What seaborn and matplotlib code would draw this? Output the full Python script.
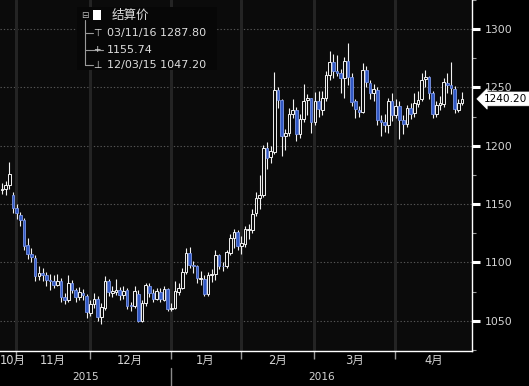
import numpy as np
import pandas as pd
import matplotlib
matplotlib.use("Agg")
import matplotlib.pyplot as plt
import matplotlib.transforms as mtransforms
from matplotlib.patches import Rectangle
import seaborn as sns

# ---------------- data ----------------
holidays = ['2015-11-26', '2015-12-25', '2016-01-01', '2016-01-18', '2016-02-15', '2016-03-25']

opens = [
    1162, 1163, 1166, 1158, 1147,
    1141, 1136, 1115, 1107, 1104, 1088, 1091, 1089, 1085, 1084, 1081, 1084, 1070, 1068, 1082, 1076, 1070, 1074, 1071, 1057,
    1064, 1069, 1053, 1061, 1084, 1074, 1075, 1076, 1072, 1076, 1063, 1063, 1073, 1050, 1065, 1080, 1074, 1069, 1075, 1068, 1077, 1060,
    1061, 1075, 1078, 1092, 1108, 1098, 1097, 1086, 1086, 1073, 1089, 1090, 1106, 1097, 1097, 1108, 1121, 1126, 1114,
    1116, 1128, 1128, 1142, 1155, 1158, 1198, 1190, 1195, 1248, 1239, 1208, 1211, 1227, 1231, 1210, 1223, 1239, 1241, 1220,
    1238, 1231, 1241, 1261, 1272, 1264, 1262, 1258, 1273, 1259, 1238, 1231, 1229, 1265, 1254, 1245, 1248, 1222, 1220, 1218, 1238, 1226,
    1234, 1222, 1219, 1232, 1228, 1236, 1240, 1257, 1259, 1245, 1227, 1235, 1236, 1254, 1252, 1249, 1231, 1237,
]
highs = [
    1168, 1170, 1186, 1160, 1150,
    1143, 1138, 1121, 1112, 1106, 1097, 1095, 1092, 1090, 1089, 1090, 1087, 1074, 1089, 1085, 1078, 1079, 1077, 1073, 1068,
    1074, 1071, 1065, 1088, 1086, 1080, 1086, 1079, 1080, 1078, 1066, 1080, 1076, 1068, 1082, 1082, 1077, 1078, 1078, 1080, 1078, 1065,
    1084, 1082, 1095, 1112, 1113, 1101, 1098, 1093, 1089, 1092, 1094, 1111, 1107, 1100, 1111, 1124, 1129, 1128, 1123,
    1131, 1133, 1146, 1160, 1175, 1201, 1203, 1200, 1263, 1250, 1240, 1214, 1232, 1240, 1233, 1227, 1253, 1244, 1241, 1246,
    1247, 1247, 1264, 1281, 1279, 1278, 1266, 1276, 1287.8, 1262, 1240, 1234, 1271, 1268, 1256, 1253, 1250, 1226, 1227, 1241, 1245, 1240,
    1238, 1226, 1235, 1237, 1245, 1247, 1262, 1265, 1260, 1247, 1238, 1243, 1258, 1262, 1272, 1251, 1240, 1246,
]
lows = [
    1159, 1158, 1163, 1142, 1137,
    1131, 1111, 1103, 1100, 1084, 1085, 1084, 1080, 1076, 1078, 1080, 1066, 1064, 1066, 1074, 1066, 1068, 1068, 1052, 1054,
    1061, 1050, 1047.2, 1059, 1071, 1070, 1072, 1068, 1069, 1060, 1058, 1061, 1049, 1049, 1063, 1070, 1066, 1068, 1066, 1067, 1058, 1058,
    1060, 1072, 1077, 1090, 1095, 1091, 1082, 1081, 1071, 1071, 1083, 1085, 1094, 1093, 1095, 1106, 1112, 1111, 1107,
    1113, 1120, 1125, 1140, 1146, 1156, 1180, 1185, 1193, 1232, 1191, 1196, 1208, 1224, 1204, 1207, 1220, 1226, 1211, 1218,
    1225, 1226, 1238, 1256, 1258, 1260, 1245, 1241, 1252, 1234, 1224, 1225, 1228, 1250, 1240, 1238, 1218, 1208, 1212, 1211, 1221, 1224,
    1206, 1210, 1216, 1223, 1225, 1233, 1238, 1250, 1240, 1224, 1225, 1231, 1233, 1245, 1244, 1228, 1229, 1235,
]
closes = [
    1163, 1166, 1176, 1146.5, 1142.4,
    1136.6, 1114.3, 1107.5, 1104.2, 1088.0, 1091.2, 1088.9, 1085.0, 1084.4, 1080.9, 1084.2, 1070.1, 1068.1, 1082.0, 1076.4,
    1070.5, 1074.5, 1071.7, 1057.4, 1064.5,
    1068.9, 1053.5, 1061.6, 1084.1, 1074.6, 1075.4, 1076.1, 1071.9, 1075.7, 1062.6, 1062.9, 1075.6, 1049.6, 1065.0, 1080.6,
    1074.1, 1068.9, 1075.5, 1068.3, 1076.8, 1059.8, 1060.3,
    1075.1, 1078.4, 1091.9, 1107.7, 1097.8, 1096.6, 1086.4, 1086.5, 1073.1, 1088.9, 1089.8, 1106.0, 1097.0, 1096.6, 1108.6,
    1121.0, 1125.7, 1114.2, 1116.4,
    1128.4, 1128.1, 1141.6, 1155.4, 1158.2, 1198.4, 1189.6, 1195.1, 1247.8, 1239.4, 1208.4, 1211.0, 1227.2, 1230.8, 1210.2,
    1223.3, 1238.6, 1240.6, 1220.2, 1238.4,
    1231.2, 1240.8, 1260.5, 1271.9, 1264.5, 1262.4, 1257.8, 1272.8, 1259.0, 1237.6, 1231.2, 1229.3, 1265.0, 1254.3, 1244.9,
    1248.7, 1222.4, 1220.2, 1218.0, 1238.0, 1226.2, 1234.2,
    1221.9, 1218.8, 1232.3, 1227.6, 1236.4, 1239.6, 1256.8, 1258.8, 1245.4, 1227.4, 1234.7, 1236.3, 1254.3, 1252.0, 1249.3,
    1231.2, 1237.1, 1240.2,
]
month_labels = ['10月', '11月', '12月', '1月', '2月', '3月', '4月']
year_labels = ['2015', '2016']
y_ticks = [1050, 1100, 1150, 1200, 1250, 1300]
legend_title = '结算价'
stat_high = ('03/11/16', 1287.80)
stat_avg = 1155.74
stat_low = ('12/03/15', 1047.20)
last_price = 1240.20

# ---------------- frame ----------------
dates = pd.bdate_range('2015-10-26', '2016-04-26')
dates = dates[~dates.isin(pd.to_datetime(holidays))]
df = pd.DataFrame({'date': dates, 'open': opens, 'high': highs, 'low': lows, 'close': closes})
df['idx'] = np.arange(len(df))
df['up'] = df['close'] >= df['open']

sns.set_style('dark')
plt.rcParams['font.family'] = ['DejaVu Sans', 'Noto Sans CJK SC']

W, H = 529, 386
fig = plt.figure(figsize=(W / 100, H / 100), dpi=100, facecolor='black')
AXW, AXH = 472, 351
ax = fig.add_axes([0, (H - AXH) / H, AXW / W, AXH / H])
BG = '#0b0b0b'
ax.set_facecolor(BG)

xmin, xmax = -0.55, 127.7
ax.set_xlim(xmin, xmax)
ax.set_ylim(1024, 1311.5)

# month boundaries
mstart = df.groupby(df['date'].dt.to_period('M'))['idx'].min().values
ticks = mstart[1:] - 1.2

# grid
for yv in y_ticks:
    ax.axhline(yv, color='#555555', lw=0.8, dashes=(1.2, 1.8), zorder=1)
for t in ticks:
    ax.axvline(t, color='#242424', lw=2.2, zorder=1)

# candles
ax.vlines(df['idx'], df['low'], df['high'], color='#f2f2f2', lw=0.8, zorder=2)
u = df[df['up']]
d = df[~df['up']]
ax.bar(u['idx'], (u['close'] - u['open']).clip(lower=0.6), bottom=u['open'], width=0.72,
       color=BG, edgecolor='#f2f2f2', lw=0.7, zorder=3)
ax.bar(d['idx'], (d['open'] - d['close']).clip(lower=0.6), bottom=d['close'], width=0.72,
       color='#3158c4', edgecolor='#7d97e6', lw=0.6, zorder=3)

# spines
for s in ['top', 'left']:
    ax.spines[s].set_visible(False)
for s in ['right', 'bottom']:
    ax.spines[s].set_visible(True)
    ax.spines[s].set_color('white')
    ax.spines[s].set_linewidth(1.0)

# y axis on right
ax.yaxis.tick_right()
ax.set_yticks(y_ticks)
ax.set_yticklabels([str(v) for v in y_ticks])
ax.set_yticks([v + 25 for v in [1000] + y_ticks[:-1]] + [1325], minor=True)
ax.tick_params(axis='y', which='major', direction='out', length=6, width=2.2, color='white',
               labelcolor='#d4d4d4', labelsize=7.8, pad=3, right=True, left=False)
ax.tick_params(axis='y', which='minor', direction='out', length=3, width=0.8, color='#9a9a9a',
               right=True, left=False)

# x ticks
ax.set_xticks(ticks)
ax.set_xticklabels([])
ax.tick_params(axis='x', which='major', direction='out', length=6, width=1.0, color='#9a9a9a', bottom=True)
ax.grid(False)

trans = mtransforms.blended_transform_factory(ax.transData, ax.transAxes)
# month labels
centers = list((ticks[:-1] + ticks[1:]) / 2) + [(ticks[-1] + xmax) / 2]
ax.text(xmin, -0.027, month_labels[0], transform=trans, ha='left', va='center',
        color='#d4d4d4', fontsize=8.3, clip_on=False)
for lab, cx in zip(month_labels[1:], centers):
    ax.text(cx, -0.027, lab, transform=trans, ha='center', va='center',
            color='#d4d4d4', fontsize=8.3, clip_on=False)
# year labels
jan = ticks[2]
ax.text((xmin + jan) / 2, -0.075, year_labels[0], transform=trans, ha='center', va='center',
        color='#d4d4d4', fontsize=7.6, clip_on=False)
ax.text((jan + xmax) / 2, -0.075, year_labels[1], transform=trans, ha='center', va='center',
        color='#d4d4d4', fontsize=7.6, clip_on=False)
ax.plot([jan, jan], [-0.048, -0.10], transform=trans, color='#8a8a8a', lw=1.0, clip_on=False)

# last price tag
ty = mtransforms.blended_transform_factory(ax.transAxes, ax.transData)
ax.text(1.026, last_price, f'{last_price:.2f}', transform=ty, ha='left', va='center', color='black',
        fontsize=7.6, clip_on=False,
        bbox=dict(boxstyle='larrow,pad=0.18', fc='white', ec='white', lw=0.5))

# legend box
def P(px, py):
    return px / AXW, 1 - py / AXH

ax.add_patch(Rectangle(P(77, 70), 140 / AXW, 63 / AXH, transform=ax.transAxes,
                       facecolor='#070707', edgecolor='none', zorder=5))
tc = '#dcdcdc'
ax.text(*P(85, 15), '⊟', transform=ax.transAxes, ha='center', va='center', color='#bdbdbd',
        fontsize=6.5, zorder=6)
ax.add_patch(Rectangle(P(93, 19.5), 8 / AXW, 9 / AXH, transform=ax.transAxes,
                       facecolor='white', edgecolor='none', zorder=6))
ax.text(*P(112, 15), legend_title, transform=ax.transAxes, ha='left', va='center', color=tc,
        fontsize=9, family=['Noto Sans CJK SC', 'DejaVu Sans'], zorder=6)
# tree lines
ax.plot(*zip(P(85, 20), P(85, 65)), transform=ax.transAxes, color='#9a9a9a', lw=0.8, zorder=6)
for yy, x2 in [(33, 93), (50, 103), (65, 93)]:
    ax.plot(*zip(P(85, yy), P(x2, yy)), transform=ax.transAxes, color='#9a9a9a', lw=0.8, zorder=6)
ax.text(*P(97, 33), '⊤', transform=ax.transAxes, ha='center', va='center', color=tc, fontsize=7, zorder=6)
ax.text(*P(97, 50), '+', transform=ax.transAxes, ha='center', va='center', color=tc, fontsize=6.5, zorder=6)
ax.text(*P(97, 65), '⊥', transform=ax.transAxes, ha='center', va='center', color=tc, fontsize=7, zorder=6)
ax.text(*P(107, 33), f'{stat_high[0]} {stat_high[1]:.2f}', transform=ax.transAxes, ha='left', va='center',
        color=tc, fontsize=8, zorder=6)
ax.text(*P(107, 50), f'{stat_avg:.2f}', transform=ax.transAxes, ha='left', va='center',
        color=tc, fontsize=8, zorder=6)
ax.text(*P(107, 65), f'{stat_low[0]} {stat_low[1]:.2f}', transform=ax.transAxes, ha='left', va='center',
        color=tc, fontsize=8, zorder=6)

fig.savefig('out.png', dpi=100, facecolor='black')
